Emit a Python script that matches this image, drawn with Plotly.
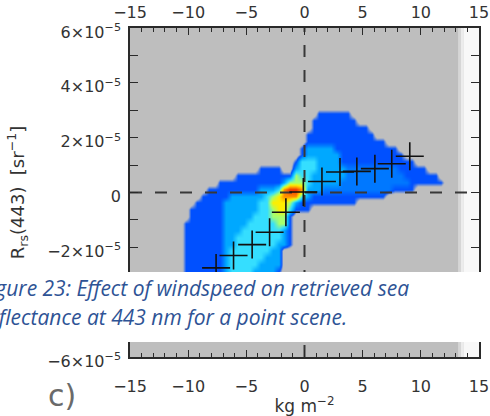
import numpy as np
import plotly.graph_objects as go

# ---------------- data ----------------
# crosses (binned means): x in kg m^-2, y = Rrs(443) in sr^-1
cross_x = [-7.6, -6.1, -4.5, -3.0, -1.6, -0.1, 1.5, 3.05, 4.5, 6.05, 7.5, 9.05]
cross_y = [-2.75e-5, -2.3e-5, -1.9e-5, -1.45e-5, -0.72e-5, 0.02e-5,
           0.4e-5, 0.75e-5, 0.77e-5, 0.87e-5, 1.05e-5, 1.32e-5]

# density levels: row centre (units of 1e-5 sr^-1) -> x extents
level1 = {  # blue (lowest non-zero density)
    2.875: [(1.0, 3.9)], 2.625: [(0.6, 4.7)], 2.375: [(0.35, 5.5)], 2.125: [(0.1, 6.2)],
    1.875: [(-0.2, 7.0)], 1.625: [(-0.5, 7.8)], 1.375: [(-0.7, 8.6)], 1.125: [(-1.0, 9.4)],
    0.875: [(-4.2, -2.2), (-1.2, 10.4)], 0.625: [(-6.0, 11.4)], 0.375: [(-7.5, 11.9)],
    0.125: [(-8.4, 9.6)], -0.125: [(-9.1, 7.2)], -0.375: [(-9.6, 4.4)], -0.625: [(-9.9, 0.3)],
    -0.875: [(-10.1, -1.0)], -1.125: [(-10.3, -1.0)], -1.375: [(-10.5, -1.0)],
    -1.625: [(-10.7, -1.0)], -1.875: [(-10.7, -1.0)], -2.125: [(-10.7, -2.0)],
    -2.375: [(-10.7, -2.0)], -2.625: [(-10.7, -2.0)], -2.875: [(-10.7, -2.2)],
    -3.125: [(-10.8, -2.5)], -3.375: [(-10.8, -3.0)], -3.625: [(-10.8, -3.5)],
    -3.875: [(-10.6, -4.2)], -4.125: [(-10.4, -5.0)], -4.375: [(-10.2, -6.0)],
    -4.625: [(-10.0, -7.0)], -4.875: [(-9.8, -8.0)], -5.125: [(-9.5, -8.8)],
}
level1b = {  # medium blue band along the right branch
    0.875: [(3.5, 8.0)], 0.625: [(3.5, 8.5)], 0.375: [(3.0, 8.8)], 0.125: [(1.5, 7.5)],
}
level2 = {  # cyan
    1.625: [(0.2, 2.3)], 1.375: [(-0.2, 2.8)], 1.125: [(-0.6, 3.2)], 0.875: [(-0.9, 3.5)],
    0.625: [(-1.2, 3.5)], 0.375: [(-2.0, 3.0)], 0.125: [(-4.0, 1.5)], -0.125: [(-6.6, 0.5)],
    -0.375: [(-6.8, -0.3)], -0.625: [(-6.8, -1.0)], -0.875: [(-6.8, -1.3)],
    -1.125: [(-6.8, -1.3)], -1.375: [(-6.8, -1.3)], -1.625: [(-6.8, -1.3)],
    -1.875: [(-6.8, -1.4)], -2.125: [(-6.8, -2.2)], -2.375: [(-6.8, -2.2)],
    -2.625: [(-6.8, -2.2)], -2.875: [(-6.8, -2.4)], -3.125: [(-6.8, -2.8)],
    -3.375: [(-7.0, -3.3)], -3.625: [(-7.2, -4.0)], -3.875: [(-7.5, -4.8)],
    -4.125: [(-8.0, -5.8)], -4.375: [(-8.5, -7.0)],
}
level3 = {  # light cyan
    1.125: [(-0.3, 1.0)], 0.875: [(-0.5, 1.0)], 0.625: [(-0.8, 0.6)], 0.375: [(-1.5, 0.3)],
    0.125: [(-2.5, 0.2)], -0.125: [(-3.5, -0.2)], -0.375: [(-3.8, -0.8)],
    -0.625: [(-4.0, -1.2)], -0.875: [(-4.5, -1.5)], -1.125: [(-5.0, -1.6)],
    -1.375: [(-5.5, -1.8)], -1.625: [(-6.0, -2.2)], -1.875: [(-6.2, -2.5)],
    -2.125: [(-6.5, -3.0)], -2.375: [(-6.5, -3.5)], -2.625: [(-6.5, -4.0)],
    -2.875: [(-6.5, -4.5)], -3.125: [(-6.8, -5.0)], -3.375: [(-7.0, -5.5)],
}
level4 = {  # green
    0.625: [(-1.0, -0.3)], 0.375: [(-1.3, -0.2)], 0.125: [(-2.2, -0.1)],
    -0.125: [(-3.0, -0.3)], -0.375: [(-3.2, -1.0)], -0.625: [(-3.0, -1.3)],
    -0.875: [(-2.8, -1.5)], -1.125: [(-2.5, -1.7)],
}
level5 = {  # yellow
    -0.125: [(-2.6, -1.4)], -0.375: [(-2.8, -1.3)], -0.625: [(-2.5, -1.6)],
}
level6 = {  # orange
    0.125: [(-1.8, -0.2)], -0.125: [(-1.8, -0.7)],
}
level7 = {  # red
    0.125: [(-1.25, -0.75)],
}
levels = [(1.0, level1), (1.5, level1b), (2.0, level2), (3.0, level3),
          (4.0, level4), (5.0, level5), (6.0, level6), (7.0, level7)]

x_ticks = [-15, -10, -5, 0, 5, 10, 15]
x_ticktext = ["\u221215", "\u221210", "\u22125", "0", "5", "10", "15"]
y_ticks = [-6e-5, -4e-5, -2e-5, 0, 2e-5, 4e-5, 6e-5]
# the -4e-5 label sits under the caption box in the reference
y_ticktext = ["\u22126\u00d710<sup>\u22125</sup>", "",
              "\u22122\u00d710<sup>\u22125</sup>", "0", "2\u00d710<sup>\u22125</sup>",
              "4\u00d710<sup>\u22125</sup>", "6\u00d710<sup>\u22125</sup>"]

caption_1 = "Figure 23: Effect of windspeed on retrieved sea"
caption_2 = "reflectance at 443 nm for a point scene."

# ---------------- grid ----------------
gx = np.arange(-11.25, 12.76, 0.5)
gy = np.arange(-5.875, 3.13, 0.25)
Z = np.zeros((len(gy), len(gx)))
for val, table in levels:
    for yc, spans in table.items():
        iy = int(np.argmin(np.abs(gy - yc)))
        for x0, x1 in spans:
            m = (gx >= x0 - 1e-9) & (gx <= x1 + 1e-9)
            Z[iy, m] = np.maximum(Z[iy, m], val)

GRAY = "#BEBEBE"
cs = [[0.0, GRAY], [0.45 / 7, GRAY], [1 / 7, "#0050FF"], [1.5 / 7, "#0078FF"],
      [2 / 7, "#00A8FF"], [3 / 7, "#35DEFF"], [4 / 7, "#A6FF6E"], [5 / 7, "#FFEE00"],
      [6 / 7, "#FF9000"], [1.0, "#F03000"]]

fig = go.Figure()
fig.add_trace(go.Heatmap(x=gx, y=gy * 1e-5, z=Z, zmin=0, zmax=7, colorscale=cs,
                         showscale=False, zsmooth="best", hoverinfo="skip"))
dash_col = "#383838"
fig.add_trace(go.Scatter(x=[-15, 15], y=[0, 0], mode="lines",
                         line=dict(color=dash_col, width=2, dash="12px,13px"),
                         showlegend=False, hoverinfo="skip"))
fig.add_trace(go.Scatter(x=[0, 0], y=[-6e-5, 6e-5], mode="lines",
                         line=dict(color=dash_col, width=2, dash="12px,13px"),
                         showlegend=False, hoverinfo="skip"))
fig.add_trace(go.Scatter(x=cross_x, y=cross_y, mode="markers",
                         marker=dict(symbol="cross-thin", size=20,
                                     line=dict(color="#111111", width=1.6)),
                         showlegend=False))
fig.add_trace(go.Scatter(x=[None], y=[None], xaxis="x2", mode="markers",
                         showlegend=False, hoverinfo="skip"))

tick_font = dict(family="DejaVu Sans", size=16, color="#333333")
axcol = "#2a2a2a"
fig.update_layout(
    width=490, height=416,
    margin=dict(l=130, r=11, t=28, b=59, autoexpand=False),
    paper_bgcolor="white", plot_bgcolor=GRAY,
    xaxis=dict(range=[-15, 15], tickmode="array", tickvals=x_ticks, ticktext=x_ticktext,
               showline=True, linecolor=axcol, linewidth=1.5, mirror="allticks",
               ticks="inside", ticklen=7, tickwidth=1.2, tickcolor=axcol,
               minor=dict(tickvals=list(range(-15, 16)), ticks="inside", ticklen=4,
                          tickcolor=axcol, tickwidth=1),
               showgrid=False, zeroline=False, tickfont=tick_font, ticklabelstandoff=14,
               automargin=False,
               title=dict(text="kg m<sup>\u22122</sup>", font=dict(family="DejaVu Sans", size=17,
                          color="#333333"), standoff=2)),
    xaxis2=dict(range=[-15, 15], overlaying="x", side="top", matches="x",
                tickmode="array", tickvals=x_ticks, ticktext=x_ticktext,
                showline=False, ticks="", showgrid=False, zeroline=False,
                tickfont=tick_font, ticklabelstandoff=6, automargin=False),
    yaxis=dict(range=[-6e-5, 6e-5], tickmode="array", tickvals=y_ticks, ticktext=y_ticktext,
               showline=True, linecolor=axcol, linewidth=1.5, mirror="allticks",
               ticks="inside", ticklen=8, tickwidth=1.2, tickcolor=axcol,
               minor=dict(tickvals=[k * 1e-5 for k in range(-6, 7)], ticks="inside",
                          ticklen=5, tickcolor=axcol, tickwidth=1),
               showgrid=False, zeroline=False, tickfont=tick_font, ticklabelstandoff=4,
               ticklabelshift=4, automargin=False,
               title=dict(text="R<sub>rs</sub>(443)  [sr<sup>\u22121</sup>]",
                          font=dict(family="DejaVu Sans", size=18, color="#333333"),
                          standoff=18)),
    shapes=[
        dict(type="rect", xref="x", yref="paper", x0=13.2, x1=13.45, y0=0, y1=1,
             fillcolor="#D6D6D6", line_width=0, layer="below"),
        dict(type="rect", xref="x", yref="paper", x0=13.45, x1=13.7, y0=0, y1=1,
             fillcolor="#ECECEC", line_width=0, layer="below"),
        dict(type="rect", xref="x", yref="paper", x0=13.7, x1=15, y0=0, y1=1,
             fillcolor="#F8F8F8", line_width=0, layer="below"),
        dict(type="rect", xref="paper", yref="paper", x0=-0.4, x1=1.04,
             y0=0.0456, y1=0.2584, fillcolor="white", line_width=0, layer="above"),
    ],
    annotations=[
        dict(text="c)", xref="paper", yref="paper", x=-0.195, y=(357 - 415) / 329,
             xanchor="center", yanchor="bottom", showarrow=False,
             font=dict(family="DejaVu Sans", size=30, color="#6a6a6a")),
        dict(text="<i>" + caption_1 + "</i>", xref="paper", yref="paper",
             x=(-22 - 130) / 349, y=(357 - 288) / 329, xanchor="left", yanchor="middle",
             showarrow=False, font=dict(family="Open Sans", size=21, color="#2E5395")),
        dict(text="<i>" + caption_2 + "</i>", xref="paper", yref="paper",
             x=(-22 - 130) / 349, y=(357 - 317) / 329, xanchor="left", yanchor="middle",
             showarrow=False, font=dict(family="Open Sans", size=21, color="#2E5395")),
    ],
)

fig.write_html("out.html")
